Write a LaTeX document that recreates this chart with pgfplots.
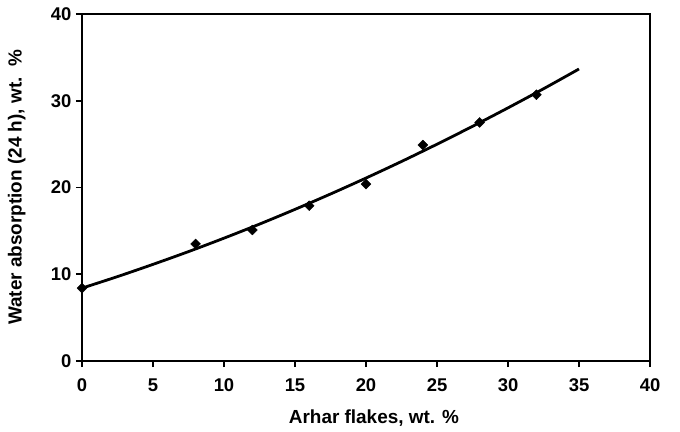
\documentclass[border=0pt]{standalone}
\usepackage{pgfplots}
\pgfplotsset{compat=1.18}
\usepackage{fontspec}
\setmainfont{Liberation Sans}

\begin{document}
\begin{tikzpicture}
\begin{axis}[
  at={(0,0)}, anchor=south west,
  scale only axis,
  width=568bp, height=347bp,
  xmin=0, xmax=40, ymin=0, ymax=40,
  xtick={0,5,...,40}, ytick={0,10,...,40},
  axis line style={line width=2bp},
  tick style={line width=1.6bp, black},
  tick align=outside,
  major tick length=6bp,
  xtick pos=bottom, ytick pos=left,
  /pgf/number format/assume math mode=true,
  tick label style={font=\fontsize{18.5}{21}\selectfont\bfseries},
  xticklabel style={yshift=-8bp},
  yticklabel style={xshift=-1bp},
  label style={font=\fontsize{19}{22}\selectfont\bfseries},
  xlabel={Arhar flakes, wt. \%},
  ylabel={Water absorption (24 h), wt.\ \ \%},
  xlabel style={at={(axis description cs:0.514,0)}, anchor=north, yshift=-45bp},
  ylabel style={at={(axis description cs:0,0.5)}, anchor=south, yshift=53bp},
  clip=false,
]
% fitted trend
\addplot[black, line width=2.8bp, smooth] coordinates {
  (0,8.40) (2.5,9.73) (5,11.14) (7.5,12.61) (10,14.16) (12.5,15.78)
  (15,17.48) (17.5,19.25) (20,21.09) (22.5,23.00) (25,24.99)
  (27.5,27.05) (30,29.18) (32.5,31.38) (35,33.66)
};
% measured values
\addplot[only marks, mark=square*, mark size=3.5bp,
  mark options={black, fill=black, rotate=45}] coordinates {
  (0,8.4) (8,13.5) (12,15.1) (16,17.9) (20,20.4) (24,24.9) (28,27.5) (32,30.7)
};
\end{axis}
\pgfresetboundingbox
\useasboundingbox (-82bp,-71bp) rectangle (598bp,361bp);
\end{tikzpicture}
\end{document}
